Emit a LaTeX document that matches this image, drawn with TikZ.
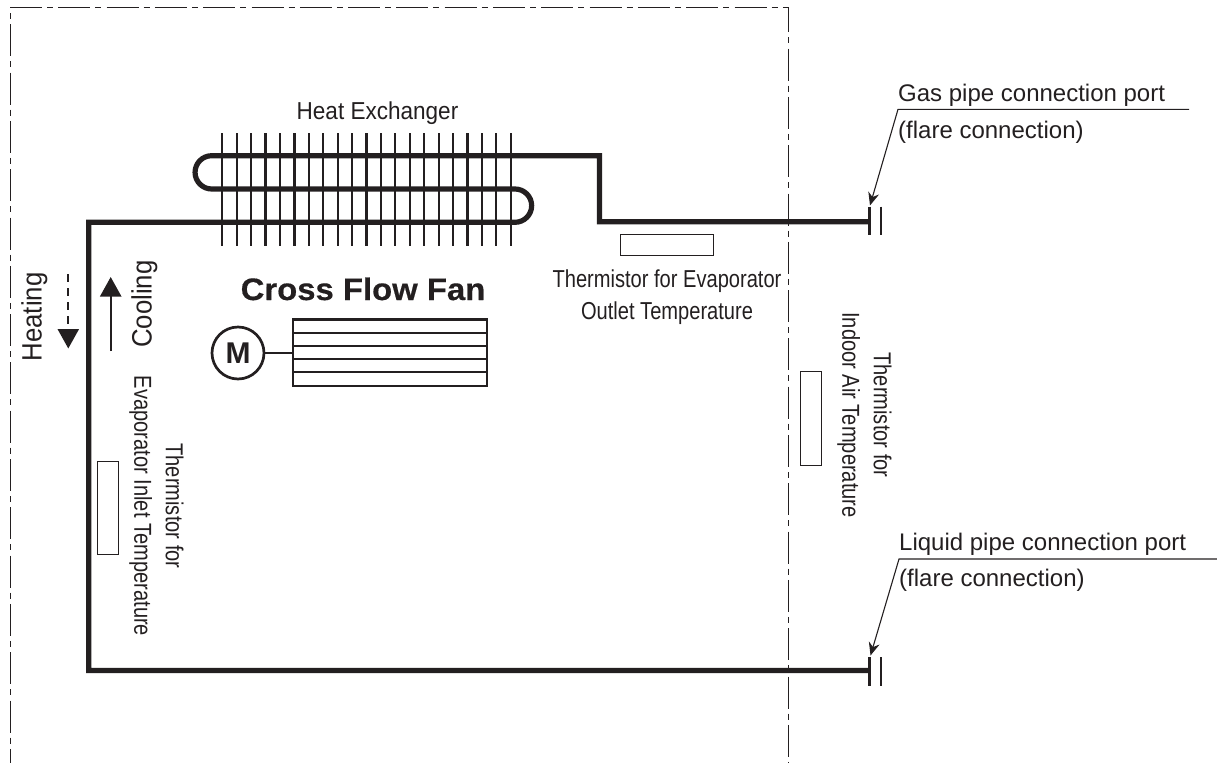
\documentclass[tikz,border=0pt]{standalone}
\usepackage{fontspec}
\setmainfont{Liberation Sans}
\newfontfamily\fnarrow[FakeStretch=0.82]{Liberation Sans}
\newfontfamily\ftitle[FakeStretch=0.92]{Liberation Sans}
\newfontfamily\fwide[FakeStretch=1.06,BoldFeatures={FakeBold=0.4}]{Liberation Sans}
\usetikzlibrary{arrows.meta}
\definecolor{ink}{HTML}{231F20}
\tikzset{
  pipe/.style={line width=5.2pt,draw=ink,line join=miter},
  fin/.style={line width=2.2pt,draw=ink},
  frameline/.style={line width=1pt,draw=ink},
  thin box/.style={draw=ink,line width=1pt,fill=white,inner sep=0pt},
  leader/.style={line width=1.1pt,draw=ink,-{Stealth[length=13pt,width=11pt]}},
  label/.style={text=ink,inner sep=0pt,align=center},
  thermtext/.style={label,font=\fnarrow\fontsize{24.5}{31.5}\selectfont},
  porttext/.style={label,anchor=base west,font=\fontsize{24}{28}\selectfont},
  flowtext/.style={label,anchor=base,rotate=90,font=\ftitle\fontsize{28}{30}\selectfont},
  flow/.style={line width=2.3pt,draw=ink,-{Triangle[length=19.5pt,width=21pt]}},
}
\begin{document}
\begin{tikzpicture}[x=1pt,y=-1pt]
\useasboundingbox (0,0) rectangle (1217,763);
% frame
\coordinate (f0) at (10,7.3);
\coordinate (f1) at (788.3,7.3);
\coordinate (f2) at (10,763);
\coordinate (f3) at (788.3,763);
\draw[frameline,dash pattern=on 32pt off 5pt on 6pt off 5.3pt] (f0) -- (f1);
\draw[frameline,dash pattern=on 32pt off 5pt on 6pt off 5.3pt,dash phase=31.3pt] (f0) -- (f2);
\draw[frameline,dash pattern=on 32pt off 5pt on 6pt off 5.3pt,dash phase=7pt] (f1) -- (f3);
% fins
\foreach \i in {0,...,20} \draw[fin] ({222.3+14.42*\i},133) -- ({222.3+14.42*\i},246);
% pipes
\coordinate (g1) at (869,221.7);
\coordinate (l1) at (869,670.5);
\draw[pipe] (g1) -- (599.5,221.7) -- (599.5,155.7) -- (211.7,155.7)
  arc[start angle=270,end angle=90,radius=16.65] -- (515,189)
  arc[start angle=-90,end angle=90,radius=16.65] -- (88.7,222.3) -- (88.7,670.5) -- (l1);
% gas port
\draw[fin] (869.5,206.7) -- (869.5,234.5);
\draw[fin] (880.7,206.7) -- (880.7,234.5);
% liquid port
\draw[fin] (869.5,657.3) -- (869.5,685.7);
\draw[fin] (880.7,657.3) -- (880.7,685.7);
% leaders
\coordinate (ga) at (898,109.3);
\coordinate (gb) at (1189,109.3);
\coordinate (gc) at (870,205.5);
\coordinate (la) at (899,559);
\coordinate (lb) at (1217,559);
\coordinate (lc) at (870.5,655.5);
\draw[leader] (gb) -- (ga) -- (gc);
\draw[leader] (lb) -- (la) -- (lc);
% thermistors
\node[thin box,minimum width=93pt,minimum height=21.4pt] (t1) at (666.6,245) {};
\node[thin box,minimum width=21.5pt,minimum height=93.3pt] (t2) at (810.8,418.4) {};
\node[thin box,minimum width=21.4pt,minimum height=93pt] (t3) at (108,507.8) {};
% fan
\node[draw=ink,line width=2.3pt,minimum width=193.4pt,minimum height=66.7pt,inner sep=0pt] (fan) at (390,352.7) {};
\foreach \y in {333.3,346.3,359,372} \draw[line width=2.3pt,draw=ink] (fan.west |- 0,\y) -- (fan.east |- 0,\y);
\node[circle,draw=ink,line width=2.7pt,minimum size=52pt,inner sep=0pt,font=\bfseries\fontsize{30}{30}\selectfont,text=ink] (m) at (238,353) {M};
\draw[line width=2.3pt,draw=ink] (m.east) -- (fan.west |- m.east);
% flow arrows
\coordinate (c1) at (110.7,351);
\coordinate (c2) at (110.7,277);
\coordinate (h1) at (68.3,274.3);
\coordinate (h2) at (68.3,348.5);
\draw[flow] (c1) -- (c2);
\draw[flow,dash pattern=on 8pt off 6pt] (h1) -- (h2);
% text
\node[label,anchor=base,font=\ftitle\fontsize{24.5}{28}\selectfont] (hx) at (377.5,119) {Heat Exchanger};
\node[label,anchor=base,font=\fwide\bfseries\fontsize{31}{32}\selectfont] (cff) at (363,300) {Cross Flow Fan};
\node[thermtext] (teo) at (667,297) {Thermistor for Evaporator\\Outlet Temperature};
\node[thermtext,rotate=-90] (tia) at (864.5,415) {Thermistor for\\Indoor Air Temperature};
\node[thermtext,rotate=-90] (tei) at (156.5,506) {Thermistor for\\Evaporator Inlet Temperature};
\node[flowtext] (heat) at (41.7,317) {Heating};
\node[flowtext] (cool) at (151.7,304) {Cooling};
\node[porttext] (gp) at (898,101.7) {Gas pipe connection port};
\node[porttext] (gf) at (898,138) {(flare connection)};
\node[porttext] (lp) at (899,550) {Liquid pipe connection port};
\node[porttext] (lf) at (899,586.7) {(flare connection)};
\end{tikzpicture}
\end{document}
